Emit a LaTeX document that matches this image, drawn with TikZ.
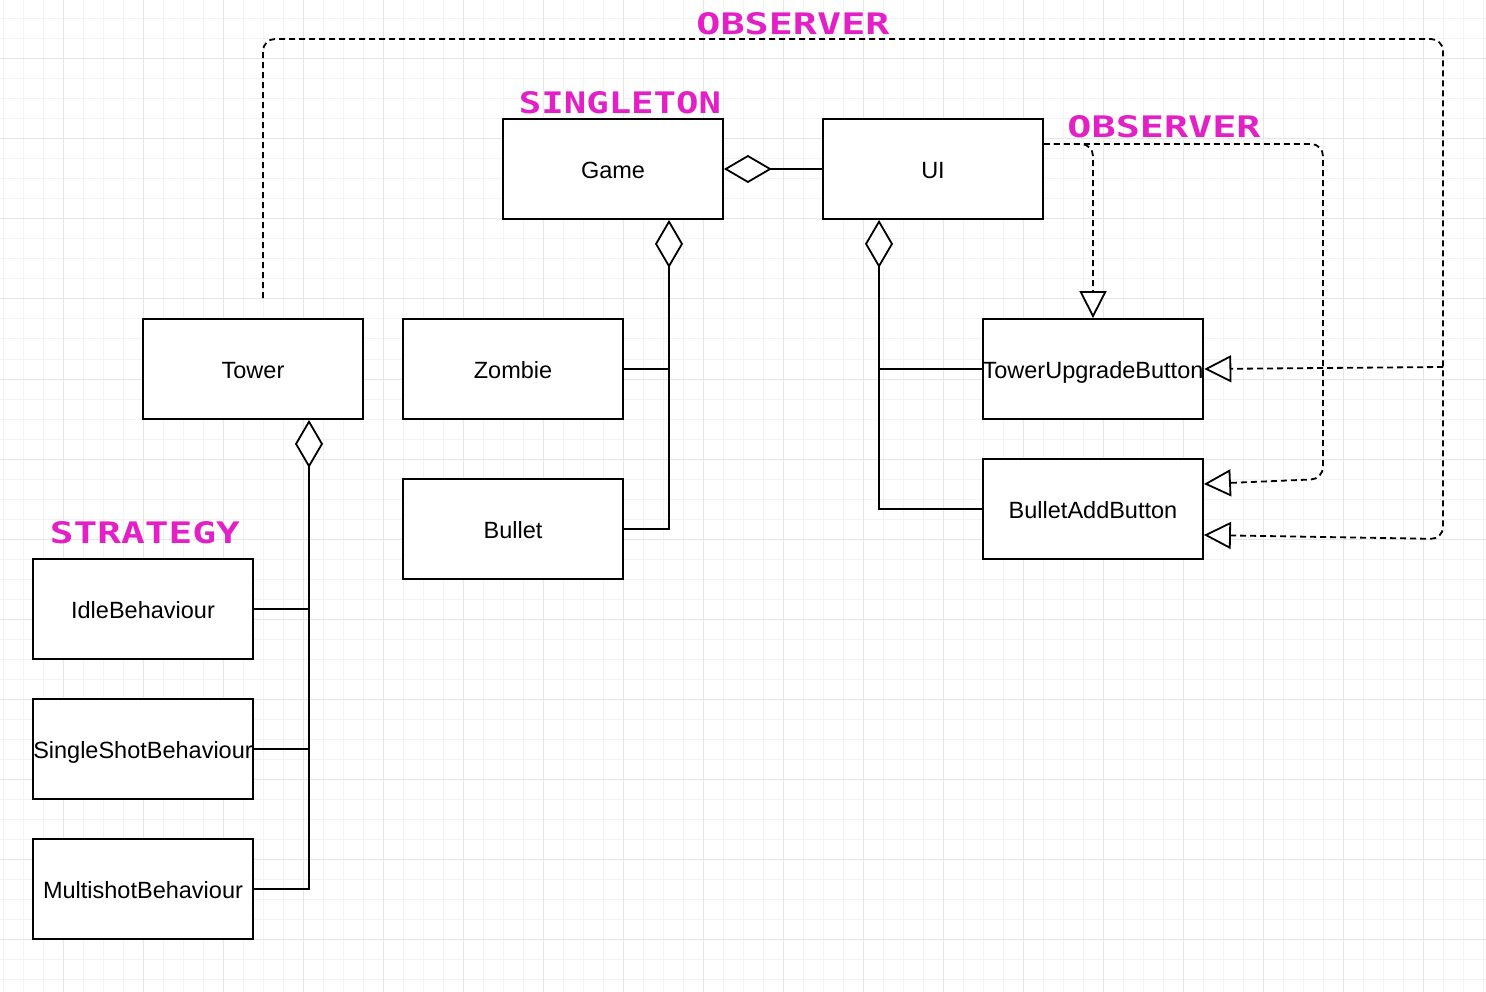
\documentclass[tikz,border=0pt]{standalone}
\usepackage{fontspec}
\usepackage{graphicx}
\setmainfont{Liberation Sans}
\newfontfamily\pixfont{DejaVu Sans Mono}
\usetikzlibrary{arrows.meta,calc}
\definecolor{pink}{RGB}{226,32,198}
\definecolor{gridminor}{RGB}{243,243,243}
\definecolor{gridmajor}{RGB}{230,230,230}
\tikzset{
  box/.style={draw=black, line width=1.8pt, fill=white, minimum width=220pt, minimum height=100pt, inner sep=0pt, text height=21pt, text depth=2.5pt, font=\fontsize{23.5}{28}\selectfont},
  conn/.style={draw=black, line width=1.8pt},
  agg/.style={conn, {Diamond[open, fill=white, length=48pt, width=28pt, line width=1.8pt]}-},
  real/.style={conn, dash pattern=on 6pt off 4pt, rounded corners=12pt, -{Triangle[open, fill=white, length=27pt, width=27pt, line width=1.8pt]}},
  lbl/.style={text=pink, inner sep=0pt, font=\pixfont\bfseries}
}
\begin{document}
\begin{tikzpicture}[x=1pt, y=-1pt]
\useasboundingbox (0,0) rectangle (1486,992);
\fill[white] (0,0) rectangle (1486,992);
% grid
\foreach \x in {3,23,...,1483} \draw[gridminor, line width=1pt] (\x,0) -- (\x,992);
\foreach \y in {19,39,...,979} \draw[gridminor, line width=1pt] (0,\y) -- (1486,\y);
\foreach \x in {63,143,...,1483} \draw[gridmajor, line width=1pt] (\x,0) -- (\x,992);
\foreach \y in {59,139,...,979} \draw[gridmajor, line width=1pt] (0,\y) -- (1486,\y);

% nodes
\node[box] (Game) at (613,169) {Game};
\node[box] (UI) at (933,169) {UI};
\node[box] (Tower) at (253,369) {Tower};
\node[box] (Zombie) at (513,369) {Zombie};
\node[box] (Bullet) at (513,529) {Bullet};
\node[box] (TUB) at (1093,369) {TowerUpgradeButton};
\node[box] (BAB) at (1093,509) {BulletAddButton};
\node[box] (Idle) at (143,609) {IdleBehaviour};
\node[box] (Single) at (143,749) {SingleShotBehaviour};
\node[box] (Multi) at (143,889) {MultishotBehaviour};

% labels
\node[lbl] (obs1) at (793,24) {\resizebox{193pt}{22pt}{OBSERVER}};
\node[lbl] (sing) at (620,103) {\resizebox{202pt}{22pt}{SINGLETON}};
\node[lbl] (obs2) at (1164,127) {\resizebox{193pt}{22pt}{OBSERVER}};
\node[lbl] (strat) at (145,533) {\resizebox{190pt}{22pt}{STRATEGY}};

% aggregations
\draw[agg] (Game.east) -- (UI.west);
\coordinate (gs) at ($(Game.south)+(56,0)$);
\draw[agg] (gs) |- (Bullet.east);
\draw[conn] (Zombie.east) -- (gs |- Zombie.east);
\coordinate (us) at ($(UI.south)+(-54,0)$);
\draw[agg] (us) |- (BAB.west);
\draw[conn] (TUB.west) -- (us |- TUB.west);
\coordinate (ts) at ($(Tower.south)+(56,0)$);
\draw[agg] (ts) |- (Multi.east);
\draw[conn] (Idle.east) -- (ts |- Idle.east);
\draw[conn] (Single.east) -- (ts |- Single.east);

% observer (top)
\coordinate (tstart) at ($(Tower.north)+(10,-20)$);
\coordinate (tb) at (1443,367);
\coordinate (babin2) at ($(BAB.east)+(0,26)$);
\draw[real] (tstart) -- (263,39) -- (1443,39) -- (1443,539) -- (babin2);
\draw[real, rounded corners=0pt] (tb) -- (TUB.east);

% observer (UI)
\coordinate (uout) at ($(UI.east)+(0,-25)$);
\coordinate (babin1) at ($(BAB.east)+(0,-25)$);
\draw[real] (uout) -- (1093,144) -- (TUB.north);
\draw[real] (uout) -- (1323,144) -- (1323,479) -- (babin1);
\end{tikzpicture}
\end{document}
